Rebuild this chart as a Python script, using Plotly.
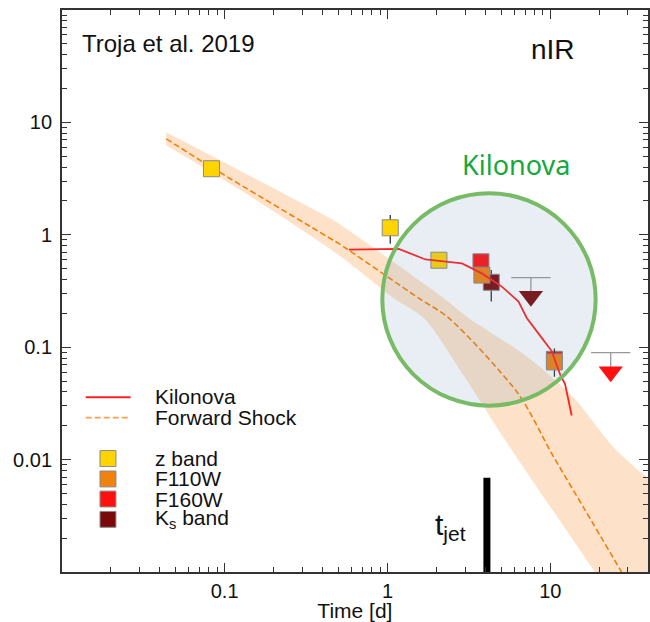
import plotly.graph_objects as go

# ---------------- data ----------------
# Forward-shock model (dashed line) and its uncertainty band
fs_t = [0.0438, 0.083, 0.438, 0.504, 1.556, 2.377, 6.38, 10.21, 16.33, 27.4]
fs_f = [7.14, 3.99, 0.942, 0.834, 0.273, 0.182, 0.0382, 0.0113, 0.00357, 0.001]
band_up_t = [0.0438, 0.438, 0.504, 2.215, 3.152, 7.34, 13.85, 24.35, 39.9]
band_up_f = [8.18, 1.416, 1.253, 0.273, 0.182, 0.0807, 0.0358, 0.01295, 0.00676]
band_lo_t = [0.0438, 0.0622, 0.163, 0.504, 1.094, 1.671, 2.94, 5.29, 18.8, 23.3, 39.9]
band_lo_f = [6.24, 4.63, 1.96, 0.658, 0.273, 0.182, 0.0559, 0.01483, 0.001, 0.00063, 0.00063]

# Kilonova model (solid red line)
kn_t = [0.580, 1.174, 1.711, 2.867, 3.80, 5.04, 6.38, 7.17, 8.86, 10.20, 11.48, 12.32, 13.53]
kn_f = [0.739, 0.749, 0.603, 0.556, 0.4535, 0.346, 0.255, 0.1818, 0.121, 0.0924, 0.0574, 0.0469, 0.0247]

# Observations
z_t = [0.083, 1.04, 2.07]
z_f = [3.87, 1.155, 0.594]
z_ep = [0.0, 0.345, 0.0]
z_em = [0.0, 0.321, 0.0]

f160_t = [3.75, 10.6]
f160_f = [0.575, 0.078]

ks_t = [4.34]
ks_f = [0.378]
ks_ep = [0.107]
ks_em = [0.123]

f110_t = [3.80, 10.6]
f110_f = [0.438, 0.0739]
f110_ep = [0.0, 0.0236]
f110_em = [0.0, 0.0193]

# Upper limits: (time, limit marker, cap)
ks_lim_t, ks_lim_f, ks_lim_cap = 7.6, 0.284, 0.416
f160_lim_t, f160_lim_f, f160_lim_cap = 23.5, 0.0604, 0.0893

t_jet = 4.08
t_jet_top = 0.0069

x_ticks = [0.1, 1, 10]
x_ticklabels = ["0.1", "1", "10"]
y_ticks = [0.01, 0.1, 1, 10]
y_ticklabels = ["0.01", "0.1", "1", "10"]

# ---------------- styles ----------------
C_Z = "#ffd400"
C_F110 = "#f0820f"
C_F160 = "#ff1010"
C_KS = "#7a0a0a"
C_KN = "#ff2020"
C_FS = "#f0800a"
C_EDGE = "#8a8a8a"
C_LIM = "#999999"
AX = "#333333"
FONT = "Liberation Sans, Arial, sans-serif"

W, H = 650, 622
MT, MB = 10, 46
PH = H - MT - MB


def px(x):
    return x / W


def py(y):
    return (H - MB - y) / PH


fig = go.Figure()

# band: lower edge (invisible), then upper edge filled to it
fig.add_trace(go.Scatter(x=band_lo_t, y=band_lo_f, mode="lines",
                         line=dict(width=0, shape="spline", smoothing=0.8),
                         hoverinfo="skip", showlegend=False))
fig.add_trace(go.Scatter(x=band_up_t, y=band_up_f, mode="lines",
                         line=dict(width=0, shape="spline", smoothing=0.8),
                         fill="tonexty", fillcolor="rgba(247,140,40,0.25)",
                         hoverinfo="skip", showlegend=False))

# forward shock line
fig.add_trace(go.Scatter(x=fs_t, y=fs_f, mode="lines",
                         line=dict(color=C_FS, width=1.6, dash="6px,3px",
                                   shape="spline", smoothing=0.8),
                         showlegend=False))

err_style = dict(color="#333333", thickness=1.3, width=0)

fig.add_trace(go.Scatter(x=z_t, y=z_f, mode="markers",
                         marker=dict(symbol="square", size=16, color=C_Z,
                                     line=dict(color=C_EDGE, width=1)),
                         error_y=dict(type="data", symmetric=False, array=z_ep,
                                      arrayminus=z_em, **err_style),
                         showlegend=False))
fig.add_trace(go.Scatter(x=f160_t, y=f160_f, mode="markers",
                         marker=dict(symbol="square", size=16, color=C_F160,
                                     line=dict(color=C_EDGE, width=1)),
                         showlegend=False))
fig.add_trace(go.Scatter(x=ks_t, y=ks_f, mode="markers",
                         marker=dict(symbol="square", size=16, color=C_KS,
                                     line=dict(color=C_EDGE, width=1)),
                         error_y=dict(type="data", symmetric=False, array=ks_ep,
                                      arrayminus=ks_em, **err_style),
                         showlegend=False))
fig.add_trace(go.Scatter(x=f110_t, y=f110_f, mode="markers",
                         marker=dict(symbol="square", size=16, color=C_F110,
                                     line=dict(color=C_EDGE, width=1)),
                         error_y=dict(type="data", symmetric=False, array=f110_ep,
                                      arrayminus=f110_em, **err_style),
                         showlegend=False))

# upper limits
for lt, lf, lc, col in [(ks_lim_t, ks_lim_f, ks_lim_cap, C_KS),
                        (f160_lim_t, f160_lim_f, f160_lim_cap, C_F160)]:
    fig.add_trace(go.Scatter(x=[lt, lt], y=[lf, lc], mode="lines",
                             line=dict(color=C_LIM, width=1.3), showlegend=False))
    fig.add_trace(go.Scatter(x=[lt], y=[lc], mode="markers",
                             marker=dict(symbol="line-ew-open", size=28, color=C_LIM,
                                         line=dict(color=C_LIM, width=1.3)),
                             showlegend=False))
    fig.add_trace(go.Scatter(x=[lt], y=[lf], mode="markers",
                             marker=dict(symbol="triangle-down", size=21, color=col,
                                         line=dict(width=0)),
                             showlegend=False))

# kilonova model
fig.add_trace(go.Scatter(x=kn_t, y=kn_f, mode="lines",
                         line=dict(color=C_KN, width=1.8), showlegend=False))

# t_jet marker bar
fig.add_trace(go.Scatter(x=[t_jet, t_jet], y=[0.0005, t_jet_top], mode="lines",
                         line=dict(color="black", width=7), showlegend=False))

shapes = []
# Kilonova circle
cx, cy, r = 490.5, 301.5, 107
shapes.append(dict(type="circle", xref="paper", yref="paper",
                   x0=px(cx - r), x1=px(cx + r), y0=py(cy + r), y1=py(cy - r),
                   fillcolor="rgba(108,142,180,0.15)",
                   line=dict(color="#78bb66", width=4), layer="above"))

# manual legend
lx0, lx1, tx = 86, 131, 153
shapes.append(dict(type="line", xref="paper", yref="paper", x0=px(lx0), x1=px(lx1),
                   y0=py(400), y1=py(400), line=dict(color=C_KN, width=1.8)))
shapes.append(dict(type="line", xref="paper", yref="paper", x0=px(lx0), x1=px(lx1),
                   y0=py(420.5), y1=py(420.5),
                   line=dict(color="#f9a050", width=1.6, dash="6px,3px")))
leg_sq = [(461.7, C_Z), (482.3, C_F110), (502.5, C_F160), (523.0, C_KS)]
for yy, col in leg_sq:
    shapes.append(dict(type="rect", xref="paper", yref="paper",
                       x0=px(100.3), x1=px(116.3), y0=py(yy + 8), y1=py(yy - 8),
                       fillcolor=col, line=dict(color=C_EDGE, width=1)))

annotations = []
leg_txt = [(399.5, "Kilonova"), (420.5, "Forward Shock"), (461.7, "z band"),
           (482.3, "F110W"), (502.5, "F160W"), (523.0, "K<sub>s</sub> band")]
for yy, txt in leg_txt:
    annotations.append(dict(x=px(tx), y=py(yy), xref="paper", yref="paper",
                            text=txt, showarrow=False, xanchor="left", yanchor="middle",
                            font=dict(family=FONT, size=21, color="#111111")))

annotations.append(dict(x=px(80), y=py(43.5), xref="paper", yref="paper",
                        text="Troja et al. 2019", showarrow=False, xanchor="left",
                        yanchor="middle", font=dict(family=FONT, size=24, color="#111111")))
annotations.append(dict(x=px(554.5), y=py(50), xref="paper", yref="paper",
                        text="nIR", showarrow=False, xanchor="center",
                        yanchor="middle", font=dict(family=FONT, size=28, color="#111111")))
annotations.append(dict(x=px(517.5), y=py(166), xref="paper", yref="paper",
                        text="Kilonova", showarrow=False, xanchor="center",
                        yanchor="middle", font=dict(family="Noto Sans, sans-serif",
                                                    size=27, color="#15a83a")))
annotations.append(dict(x=px(469), y=py(530), xref="paper", yref="paper",
                        text="t<sub>jet</sub>", showarrow=False, xanchor="right",
                        yanchor="middle", font=dict(family=FONT, size=30, color="#111111")))

x_minor = [m * 10.0 ** e for e in range(-2, 2) for m in range(2, 10)]
y_minor = [m * 10.0 ** e for e in range(-3, 2) for m in range(2, 10)]

common = dict(showgrid=False, zeroline=False, showline=True, linecolor=AX, linewidth=1.5,
              ticks="inside", ticklen=9, tickwidth=1.3, tickcolor=AX, mirror="ticks",
              tickfont=dict(family=FONT, size=20, color="#111111"))

fig.update_layout(
    width=W, height=H,
    margin=dict(l=0, r=0, t=MT, b=MB),
    paper_bgcolor="white", plot_bgcolor="white",
    showlegend=False,
    xaxis=dict(type="log", range=[-2, 1.6], domain=[62 / W, 1],
               tickvals=x_ticks, ticktext=x_ticklabels,
               minor=dict(tickvals=x_minor, ticks="inside", ticklen=5, tickwidth=1,
                          tickcolor=AX, showgrid=False),
               title=dict(text="Time [d]", standoff=6,
                          font=dict(family=FONT, size=21, color="#111111")),
               **common),
    yaxis=dict(type="log", range=[-3, 2],
               tickvals=y_ticks, ticktext=y_ticklabels,
               minor=dict(tickvals=y_minor, ticks="inside", ticklen=5, tickwidth=1,
                          tickcolor=AX, showgrid=False),
               ticklabelstandoff=4,
               **common),
    yaxis2=dict(type="log", range=[-3, 2], overlaying="y", anchor="free",
                position=9 / W, side="left", showgrid=False, zeroline=False,
                showline=True, linecolor=AX, linewidth=1.5, ticks="outside",
                ticklen=9, tickwidth=1.3, tickcolor=AX, showticklabels=False,
                tickvals=y_ticks + [0.001, 100],
                minor=dict(tickvals=y_minor, ticks="outside", ticklen=4, tickwidth=1,
                           tickcolor=AX, showgrid=False)),
    shapes=shapes,
    annotations=annotations,
)

fig.write_html("out.html")
